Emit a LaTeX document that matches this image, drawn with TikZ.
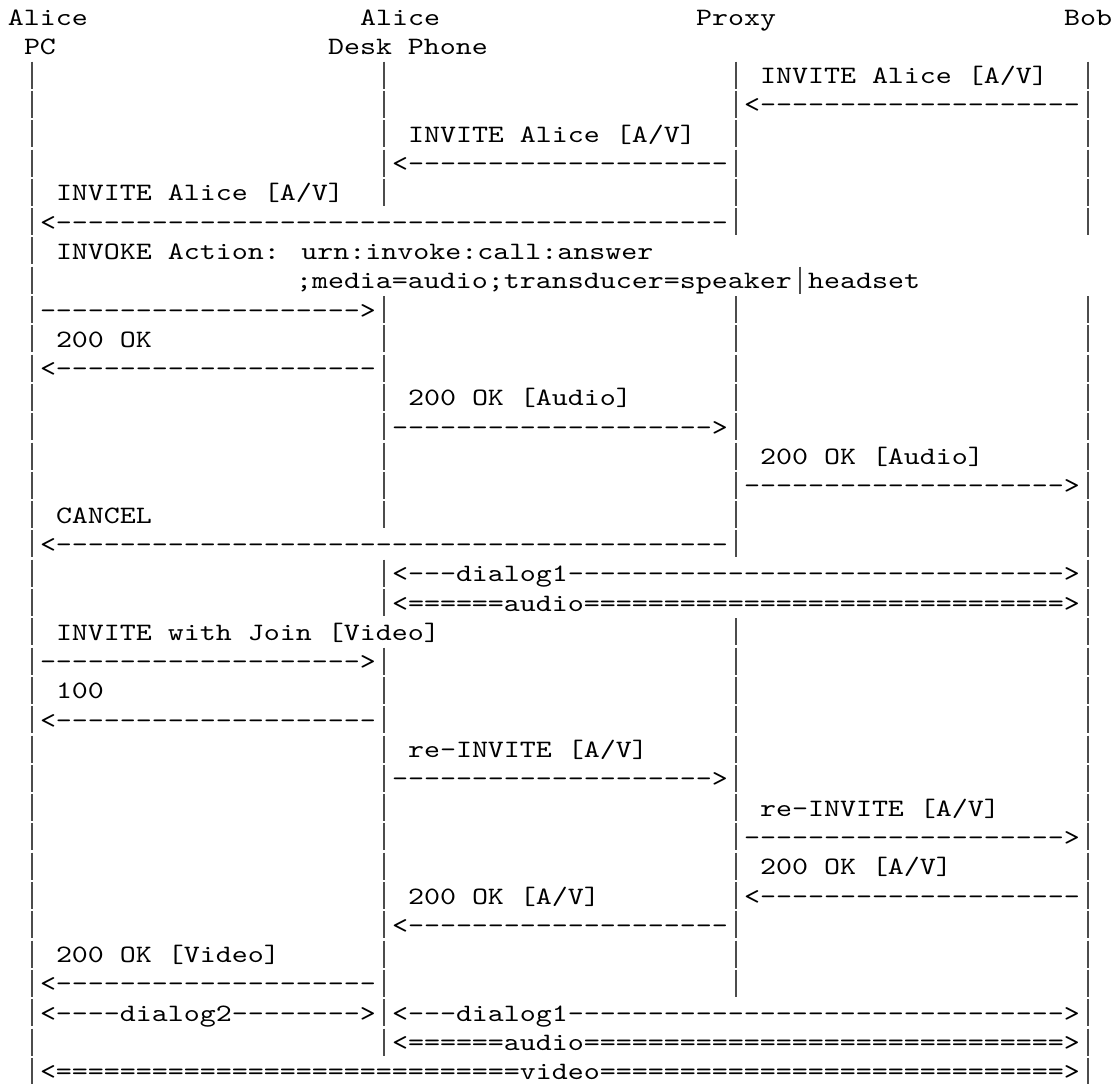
\documentclass[tikz,border=0pt]{standalone}
\usepackage{fontspec}
\newfontfamily\diagfam[FakeStretch=1.219,Ligatures=TeXOff]{lmmono10-regular.otf}
\newcommand\diagfont{\diagfam\fontsize{25}{29.3}\selectfont\spaceskip=16pt\relax}
\ExplSyntaxOn
\NewDocumentCommand\rep{mm}{\prg_replicate:nn{#1}{#2}}
\ExplSyntaxOff
\tikzset{
  txt/.style={anchor=base west, inner sep=0pt, outer sep=0pt, font=\diagfont, text=black},
  lifebar/.style={draw=black!70, line width=1.6pt}
}
% text at row #1, column #2
\newcommand\T[3]{\node[txt] (t#1-#2) at ({8+16*#2},{25+(#1-1)*29.3}) {#3};}
% bar segments on row #1 at the listed columns
\newcommand\B[2]{\foreach \lcol in {#2}{\draw[lifebar] ({16+16*\lcol},{25+(#1-1)*29.3-22}) -- ({16+16*\lcol},{25+(#1-1)*29.3+5});}}
\begin{document}
\begin{tikzpicture}[x=1pt,y=-1pt]
\fill[white] (0,0) rectangle (1120,1084);
\useasboundingbox (0,0) rectangle (1120,1084);
% headers
\T{1}{0}{Alice}\T{1}{22}{Alice}\T{1}{43}{Proxy}\T{1}{66}{Bob}
\T{2}{1}{PC}\T{2}{20}{Desk Phone}
% bars
\foreach \r in {3,4,5,6,7,11,12,13,14,15,16,17,18,23,24,25,26,27,28,29,30,31,32,33,34}{\B{\r}{1,23,45,67}}
\B{8}{1,45,67}\B{19}{1,45,67}\B{22}{1,45,67}
\B{9}{1}\B{10}{1,49}
\B{20}{1,23,67}\B{21}{1,23,67}\B{35}{1,23,67}\B{36}{1,23,67}
\B{37}{1,67}
% messages
\T{3}{47}{INVITE Alice [A/V]}
\T{4}{46}{<\rep{20}{-}}
\T{5}{25}{INVITE Alice [A/V]}
\T{6}{24}{<\rep{20}{-}}
\T{7}{3}{INVITE Alice [A/V]}
\T{8}{2}{<\rep{42}{-}}
\T{9}{3}{INVOKE Action: urn:invoke:call:answer}
\T{10}{18}{;media=audio;transducer=speaker}\T{10}{50}{headset}
\T{11}{2}{\rep{20}{-}>}
\T{12}{3}{200 OK}
\T{13}{2}{<\rep{20}{-}}
\T{14}{25}{200 OK [Audio]}
\T{15}{24}{\rep{20}{-}>}
\T{16}{47}{200 OK [Audio]}
\T{17}{46}{\rep{20}{-}>}
\T{18}{3}{CANCEL}
\T{19}{2}{<\rep{42}{-}}
\T{20}{24}{<---dialog1\rep{31}{-}>}
\T{21}{24}{<\rep{6}{=}audio\rep{30}{=}>}
\T{22}{3}{INVITE with Join [Video]}
\T{23}{2}{\rep{20}{-}>}
\T{24}{3}{100}
\T{25}{2}{<\rep{20}{-}}
\T{26}{25}{re-INVITE [A/V]}
\T{27}{24}{\rep{20}{-}>}
\T{28}{47}{re-INVITE [A/V]}
\T{29}{46}{\rep{20}{-}>}
\T{30}{47}{200 OK [A/V]}
\T{31}{25}{200 OK [A/V]}\T{31}{46}{<\rep{20}{-}}
\T{32}{24}{<\rep{20}{-}}
\T{33}{3}{200 OK [Video]}
\T{34}{2}{<\rep{20}{-}}
\T{35}{2}{<----dialog2\rep{8}{-}>}
\T{35}{24}{<---dialog1\rep{31}{-}>}
\T{36}{24}{<\rep{6}{=}audio\rep{30}{=}>}
\T{37}{2}{<\rep{29}{=}video\rep{29}{=}>}
\end{tikzpicture}
\end{document}
